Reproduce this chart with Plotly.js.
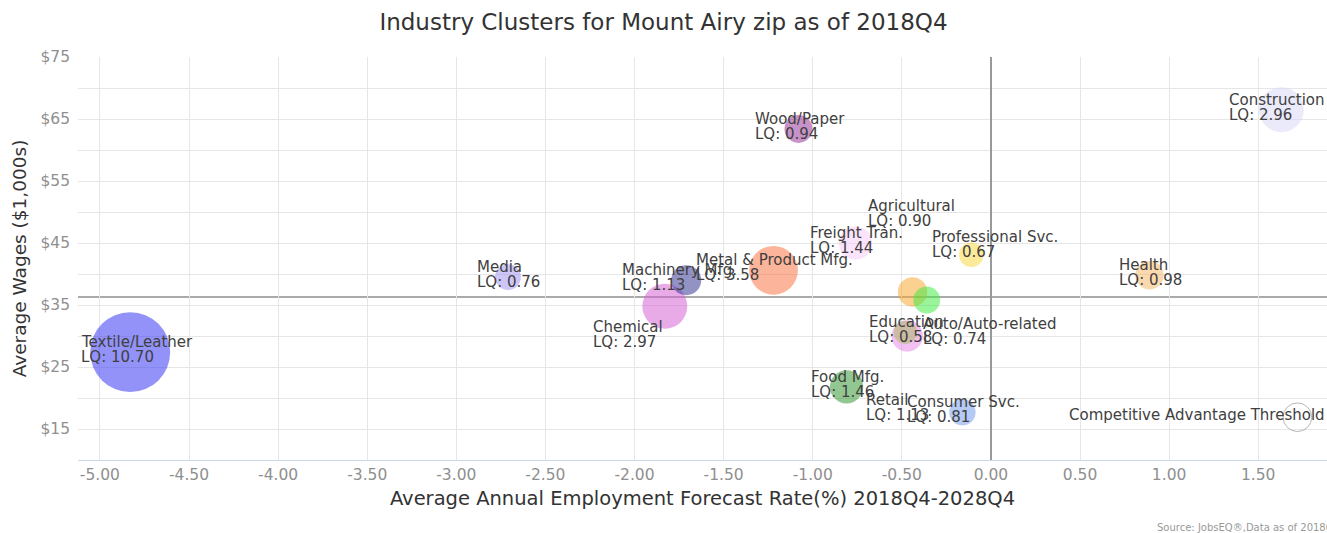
<!DOCTYPE html>
<html>
<head>
<meta charset="utf-8">
<script src="https://cdn.plot.ly/plotly-3.0.1.min.js"></script>
<style>
  html, body { margin: 0; padding: 0; background: #fff; }
  #chart { width: 1327px; height: 533px; }
</style>
</head>
<body>
<div id="chart"></div>
<script>
// ---------- data ----------
const clusters = ["Textile/Leather", "Media", "Chemical", "Machinery Mfg.", "Metal & Product Mfg.",
  "Wood/Paper", "Freight Tran.", "Agricultural", "Professional Svc.", "Health", "Construction",
  "Education", "Auto/Auto-related", "Food Mfg.", "Retail", "Consumer Svc."];
const forecastRate = [-4.83, -2.71, -1.83, -1.71, -1.22, -1.08, -0.76, -0.45, -0.11, 0.89, 1.63,
  -0.48, -0.01, -0.81, -0.53, -0.16];
const avgWages = [27.4, 39.5, 34.8, 39.0, 40.6, 63.4, 45.0, 49.3, 43.1, 39.8, 66.5,
  30.6, 30.4, 21.8, 18.1, 17.7];
const locationQuotient = [10.70, 0.76, 2.97, 1.13, 3.58, 0.94, 1.44, 0.90, 0.67, 0.98, 2.96,
  0.58, 0.74, 1.46, 1.13, 0.81];

// bubbles whose labels are not shown in the reference
const unlabeledRate = [-0.44, -0.36, -0.47];
const unlabeledWages = [37.1, 35.8, 30.0];
const unlabeledLQ = [1.07, 0.85, 1.26];

// reference marks
const thresholdName = "Competitive Advantage Threshold";
const thresholdRate = [1.72];
const thresholdWages = [16.9];
const thresholdLQ = [1.0];
const averageWageLine = 36.3;

const xTickValues = [-5, -4.5, -4, -3.5, -3, -2.5, -2, -1.5, -1, -0.5, 0, 0.5, 1, 1.5];
const xTickLabels = xTickValues.map(v => v.toFixed(2));

const titleText = "Industry Clusters for Mount Airy zip as of 2018Q4";
const xTitle = "Average Annual Employment Forecast Rate(%) 2018Q4-2028Q4";
const yTitle = "Average Wages ($1,000s)";
const sourceText = "Source: JobsEQ®,Data as of 2018Q4";

// ---------- styling ----------
const colorOf = {
  "Textile/Leather": "rgba(60,60,245,0.8)",
  "Media": "rgba(160,146,238,0.75)",
  "Chemical": "rgba(211,95,211,0.75)",
  "Machinery Mfg.": "rgba(48,48,142,0.75)",
  "Metal & Product Mfg.": "rgba(250,115,62,0.75)",
  "Wood/Paper": "rgba(148,48,148,0.75)",
  "Freight Tran.": "rgba(248,202,248,0.75)",
  "Agricultural": "rgba(255,255,255,0)",
  "Professional Svc.": "rgba(248,215,62,0.75)",
  "Health": "rgba(248,182,102,0.75)",
  "Construction": "rgba(215,215,248,0.75)",
  "Education": "rgba(170,185,95,0.75)",
  "Auto/Auto-related": "rgba(255,255,255,0)",
  "Food Mfg.": "rgba(48,148,48,0.75)",
  "Retail": "rgba(255,255,255,0)",
  "Consumer Svc.": "rgba(115,155,235,0.75)"
};
const unlabeledColors = ["rgba(248,168,48,0.75)", "rgba(62,235,62,0.75)", "rgba(232,135,232,0.75)"];
// label offsets (px) from the bubble centre, as seen in the reference
const labelNudge = {
  "Chemical": [-38, 31],
  "Professional Svc.": [23, -8],
  "Machinery Mfg.": [-8, 0]
};

const FONT = "DejaVu Sans";
const LABEL_SIZE = 15;
const MARGIN = {l: 78, r: 0, t: 57, b: 73};
const W = 1327, H = 533;
const xRange = [-5.123, 1.886];
const yRange = [10, 75];
const plotW = W - MARGIN.l - MARGIN.r;
const pxPerX = plotW / (xRange[1] - xRange[0]);

function bubbleDiameter(lq) { return 2 * (3 + 11.3 * Math.sqrt(lq)); }

const ctx = document.createElement("canvas").getContext("2d");
ctx.font = LABEL_SIZE + "px '" + FONT + "'";
function textW(s) { return ctx.measureText(s).width; }

const annotations = [];
function addLabel(lines, xv, yv, nudge) {
  const n = nudge || [0, 0];
  const cxPx = MARGIN.l + (xv - xRange[0]) * pxPerX;
  const w = Math.max(...lines.map(textW));
  let left = cxPx + n[0] - w / 2;
  left = Math.max(MARGIN.l + 2, Math.min(left, W - MARGIN.r - 3 - w));
  const dy = -2.5 + n[1];             // box centre offset, px downward
  const lineGap = 15;
  lines.forEach((t, i) => {
    const off = dy + (i - (lines.length - 1) / 2) * lineGap;
    annotations.push({
      x: xv, y: yv, xref: "x", yref: "y", text: t, showarrow: false,
      xanchor: "left", yanchor: "middle", align: "left",
      xshift: left - cxPx - 1, yshift: -off,
      font: {family: FONT, size: LABEL_SIZE, color: "#404040"}
    });
  });
}

clusters.forEach((c, i) => {
  addLabel([c, "LQ: " + locationQuotient[i].toFixed(2)], forecastRate[i], avgWages[i], labelNudge[c]);
});
addLabel([thresholdName], thresholdRate[0], thresholdWages[0], [0, 0.5]);

annotations.push({
  xref: "paper", yref: "paper", x: (1155 - MARGIN.l) / plotW, y: (460 - 527) / (H - MARGIN.t - MARGIN.b),
  xanchor: "left", yanchor: "middle", showarrow: false, text: sourceText,
  font: {family: FONT, size: 10, color: "#999"}
});

const traces = [
  {
    type: "scatter", mode: "markers", x: unlabeledRate, y: unlabeledWages,
    marker: {size: unlabeledLQ.map(bubbleDiameter), color: unlabeledColors, line: {width: 0}},
    hoverinfo: "skip"
  },
  {
    type: "scatter", mode: "markers", x: forecastRate, y: avgWages, text: clusters,
    marker: {size: locationQuotient.map(bubbleDiameter), color: clusters.map(c => colorOf[c]), line: {width: 0}},
    hovertemplate: "%{text}<br>%{x:.2f}%, $%{y:.1f}k<extra></extra>"
  },
  {
    type: "scatter", mode: "markers", x: thresholdRate, y: thresholdWages, text: [thresholdName],
    marker: {size: thresholdLQ.map(bubbleDiameter), color: "rgba(255,255,255,0)", line: {width: 1, color: "#999"}},
    hoverinfo: "text"
  }
];

const layout = {
  width: W, height: H, margin: MARGIN,
  paper_bgcolor: "#fff", plot_bgcolor: "#fff", showlegend: false,
  font: {family: FONT, color: "#333"},
  title: {text: titleText, font: {family: FONT, size: 23, color: "#333"},
          x: 0.5, xref: "container", y: 1 - 22 / H, yref: "container", yanchor: "middle"},
  xaxis: {
    range: xRange, tickmode: "array", tickvals: xTickValues, ticktext: xTickLabels,
    showgrid: true, gridcolor: "#e6e6e6", gridwidth: 1,
    zeroline: true, zerolinecolor: "#999", zerolinewidth: 1.2,
    showline: true, linecolor: "#ccd6eb", linewidth: 1,
    ticks: "", ticklabelstandoff: 0,
    tickfont: {family: FONT, size: 15.5, color: "#8f8f8f"},
    title: {text: xTitle, font: {family: FONT, size: 19.5, color: "#333"}, standoff: 8},
    fixedrange: true
  },
  yaxis: {
    range: yRange, tickmode: "linear", tick0: 15, dtick: 10, tickprefix: "$",
    showgrid: true, gridcolor: "#e6e6e6", gridwidth: 1,
    minor: {tickmode: "linear", tick0: 10, dtick: 5, showgrid: true, gridcolor: "#e6e6e6", ticks: ""},
    zeroline: false, showline: false, ticks: "", ticklabelstandoff: 7,
    tickfont: {family: FONT, size: 15.5, color: "#8f8f8f"},
    title: {text: yTitle, font: {family: FONT, size: 18.5, color: "#333"}, standoff: 8},
    fixedrange: true
  },
  shapes: [{
    type: "line", xref: "paper", x0: 0, x1: 1, yref: "y", y0: averageWageLine, y1: averageWageLine,
    line: {color: "#aaa", width: 2}, layer: "below"
  }],
  annotations: annotations
};

Plotly.newPlot("chart", traces, layout, {displayModeBar: false, staticPlot: true});
</script>
</body>
</html>
